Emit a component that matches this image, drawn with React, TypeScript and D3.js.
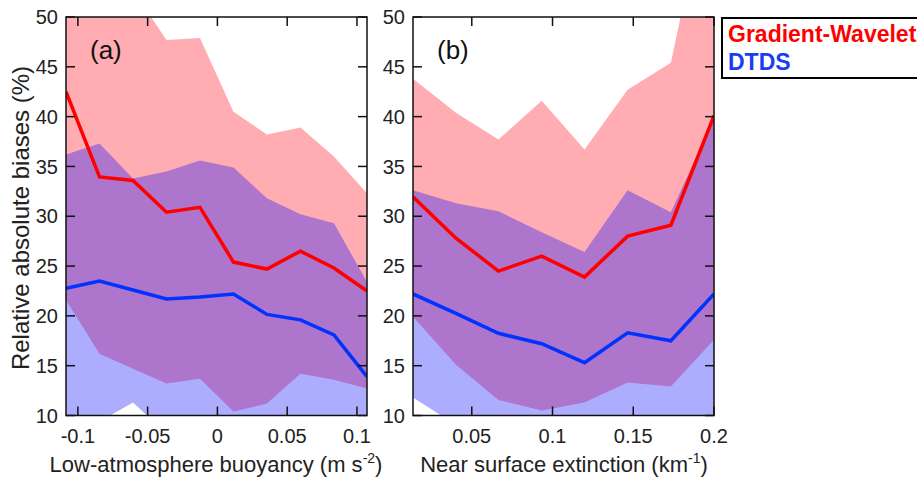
import React from 'react'
import * as d3 from 'd3'

const width = 917
const height = 484

// panel (a): low-atmosphere buoyancy
const buoyancyX = [-0.1085, -0.0845, -0.0605, -0.0365, -0.0125, 0.0115, 0.0355, 0.0595, 0.0835, 0.1072]
const gwMeanA = [42.5, 33.95, 33.6, 30.4, 30.9, 25.4, 24.7, 26.5, 24.8, 22.5]
const gwHighA = [56, 54, 52.7, 47.7, 47.9, 40.5, 38.2, 38.9, 36.0, 32.3]
const gwLowA = [21.6, 16.2, 14.7, 13.2, 13.7, 10.4, 11.2, 14.2, 13.6, 12.7]
const dtdsMeanA = [22.76, 23.5, 22.6, 21.7, 21.9, 22.2, 20.15, 19.6, 18.1, 13.9]
const dtdsHighA = [36.2, 37.3, 33.8, 34.5, 35.6, 34.9, 31.8, 30.2, 29.3, 23.4]
const dtdsLowA = [8, 9.4, 11.3, 8.2, 8, 7, 7, 7, 7, 7]

// panel (b): near surface extinction
const extinctionX = [0.0136, 0.0402, 0.0665, 0.0933, 0.1198, 0.1465, 0.1733, 0.2]
const gwMeanB = [31.95, 27.8, 24.5, 26.0, 23.9, 28.0, 29.1, 40.1]
const gwHighB = [43.8, 40.4, 37.7, 41.6, 36.7, 42.7, 45.4, 66]
const gwLowB = [19.9, 15.1, 11.55, 10.5, 11.3, 13.3, 12.9, 17.6]
const dtdsMeanB = [22.2, 20.25, 18.25, 17.2, 15.3, 18.3, 17.5, 22.2]
const dtdsHighB = [32.6, 31.3, 30.5, 28.4, 26.4, 32.6, 30.4, 39.8]
const dtdsLowB = [11.8, 9.05, 8, 8, 8, 8, 8, 8]

const xTicksA = [-0.1, -0.05, 0, 0.05, 0.1]
const xTickLabelsA = ['-0.1', '-0.05', '0', '0.05', '0.1']
const xTicksB = [0.05, 0.1, 0.15, 0.2]
const xTickLabelsB = ['0.05', '0.1', '0.15', '0.2']
const yTicks = [10, 15, 20, 25, 30, 35, 40, 45, 50]
const legendNames = ['Gradient-Wavelet', 'DTDS']

const font = '"Liberation Sans", Arial, Helvetica, sans-serif'
const top = 17
const bottom = 415.5
const tickLen = 9

const y = d3.scaleLinear().domain([10, 50]).range([bottom, top])

const Panel = ({ id, left, right, xDomain, xs, gwMean, gwHigh, gwLow, dtdsMean, dtdsHigh, dtdsLow, xTicks, xTickLabels, tag }) => {
    const x = d3.scaleLinear().domain(xDomain).range([left, right])
    const pts = xs.map((v, i) => i)
    const band = (lo, hi) =>
        d3.area<number>()
            .x(i => x(xs[i]))
            .y0(i => y(lo[i]))
            .y1(i => y(hi[i]))(pts)
    const line = vals => d3.line<number>().x(i => x(xs[i])).y(i => y(vals[i]))(pts)

    return (
        <g>
            <defs>
                <clipPath id={id}>
                    <rect x={left} y={top} width={right - left} height={bottom - top} />
                </clipPath>
            </defs>
            <g clipPath={`url(#${id})`}>
                <path d={band(gwLow, gwHigh)} fill="rgb(255,0,20)" fillOpacity={0.32} />
                <path d={band(dtdsLow, dtdsHigh)} fill="rgb(0,0,255)" fillOpacity={0.32} />
                <path d={line(gwMean)} fill="none" stroke="#ff0000" strokeWidth={3.5} />
                <path d={line(dtdsMean)} fill="none" stroke="#0033ff" strokeWidth={3.5} />
            </g>
            {xTicks.map((t, i) => (
                <g key={'x' + i}>
                    <line x1={x(t)} x2={x(t)} y1={bottom} y2={bottom - tickLen} stroke="#111" strokeWidth={1.5} />
                    <line x1={x(t)} x2={x(t)} y1={top} y2={top + tickLen} stroke="#111" strokeWidth={1.5} />
                    <text x={x(t)} y={443} textAnchor="middle" fontSize={20} fontFamily={font} fill="#222">
                        {xTickLabels[i]}
                    </text>
                </g>
            ))}
            {yTicks.map(t => (
                <g key={'y' + t}>
                    <line x1={left} x2={left + tickLen} y1={y(t)} y2={y(t)} stroke="#111" strokeWidth={1.5} />
                    <line x1={right} x2={right - tickLen} y1={y(t)} y2={y(t)} stroke="#111" strokeWidth={1.5} />
                    <text x={left - 8} y={y(t)} dy="0.36em" textAnchor="end" fontSize={20} fontFamily={font} fill="#222">
                        {t}
                    </text>
                </g>
            ))}
            <rect x={left} y={top} width={right - left} height={bottom - top} fill="none" stroke="#111" strokeWidth={1.5} />
            <text x={left + 24} y={59} fontSize={26} fontFamily={font} fill="#111">{tag}</text>
        </g>
    )
}

export default function App() {
    return (
        <svg width={width} height={height} style={{ position: 'absolute', left: 0, top: 0, background: '#fff' }}>
            <Panel
                id="clipA" left={66} right={367} xDomain={[-0.1085, 0.1072]} xs={buoyancyX}
                gwMean={gwMeanA} gwHigh={gwHighA} gwLow={gwLowA}
                dtdsMean={dtdsMeanA} dtdsHigh={dtdsHighA} dtdsLow={dtdsLowA}
                xTicks={xTicksA} xTickLabels={xTickLabelsA} tag="(a)"
            />
            <Panel
                id="clipB" left={413} right={714} xDomain={[0.0136, 0.2]} xs={extinctionX}
                gwMean={gwMeanB} gwHigh={gwHighB} gwLow={gwLowB}
                dtdsMean={dtdsMeanB} dtdsHigh={dtdsHighB} dtdsLow={dtdsLowB}
                xTicks={xTicksB} xTickLabels={xTickLabelsB} tag="(b)"
            />
            <text transform="translate(29,218) rotate(-90)" textAnchor="middle" fontSize={24} fontFamily={font} fill="#222">
                Relative absolute biases (%)
            </text>
            <text x={216} y={472} textAnchor="middle" fontSize={22} fontFamily={font} fill="#222">
                Low-atmosphere buoyancy (m s<tspan dy={-9} fontSize={14}>-2</tspan><tspan dy={9}>)</tspan>
            </text>
            <text x={564} y={472} textAnchor="middle" fontSize={22} fontFamily={font} fill="#222">
                Near surface extinction (km<tspan dy={-9} fontSize={14}>-1</tspan><tspan dy={9}>)</tspan>
            </text>
            <rect x={722} y={18} width={210} height={60} fill="#fff" stroke="#000" strokeWidth={2} />
            <text x={728} y={42} fontSize={23} fontWeight="bold" fontFamily={font} fill="#ff0000">{legendNames[0]}</text>
            <text x={728} y={70} fontSize={23} fontWeight="bold" fontFamily={font} fill="#1a3cf5">{legendNames[1]}</text>
        </svg>
    )
}
